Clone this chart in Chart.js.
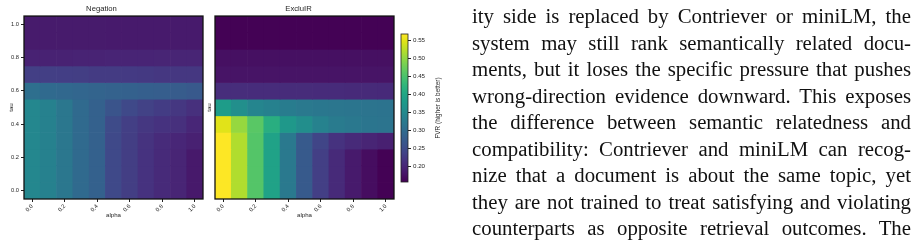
<!DOCTYPE html>
<html>
<head>
<meta charset="utf-8">
<script src="https://cdn.jsdelivr.net/npm/chart.js@4.4.1/dist/chart.umd.min.js"></script>
<style>
  body { margin: 0; width: 918px; height: 245px; background: #fff; overflow: hidden; position: relative; }
  .box { position: absolute; top: 0; }
  #para { position: absolute; left: 472px; top: 3px; width: 439px; font-family: "Liberation Serif", serif; font-size: 20.8px; line-height: 26.5px; color: #111; }
  #para div { text-align: justify; text-align-last: justify; }
</style>
</head>
<body>
<div class="box" style="left:0px"><canvas id="neg" width="206" height="245"></canvas></div>
<div class="box" style="left:203px"><canvas id="exc" width="195" height="245"></canvas></div>
<div class="box" style="left:395px"><canvas id="cbar" width="60" height="245"></canvas></div>
<div id="para">
  <div>ity side is replaced by Contriever or miniLM, the</div>
  <div>system may still rank semantically related docu-</div>
  <div>ments, but it loses the specific pressure that pushes</div>
  <div>wrong-direction evidence downward. This exposes</div>
  <div>the difference between semantic relatedness and</div>
  <div>compatibility: Contriever and miniLM can recog-</div>
  <div>nize that a document is about the same topic, yet</div>
  <div>they are not trained to treat satisfying and violating</div>
  <div>counterparts as opposite retrieval outcomes. The</div>
</div>
<script>
// grid axes
const alphaLabels = ['0.0', '0.1', '0.2', '0.3', '0.4', '0.5', '0.6', '0.7', '0.8', '0.9', '1.0'];
const tauValues = [1.0, 0.9, 0.8, 0.7, 0.6, 0.5, 0.4, 0.3, 0.2, 0.1, 0.0];
const tauTicks = [0.0, 0.2, 0.4, 0.6, 0.8, 1.0];

// FVR per cell, rows follow tauValues (top to bottom), columns follow alphaLabels
const negationFVR = [
  [0.186, 0.186, 0.186, 0.186, 0.186, 0.185, 0.185, 0.185, 0.185, 0.185, 0.185],
  [0.186, 0.186, 0.186, 0.186, 0.186, 0.185, 0.185, 0.185, 0.185, 0.185, 0.185],
  [0.195, 0.195, 0.195, 0.196, 0.196, 0.197, 0.197, 0.197, 0.198, 0.198, 0.198],
  [0.232, 0.232, 0.231, 0.230, 0.227, 0.226, 0.225, 0.224, 0.222, 0.221, 0.221],
  [0.305, 0.296, 0.293, 0.290, 0.287, 0.284, 0.282, 0.280, 0.277, 0.274, 0.270],
  [0.345, 0.336, 0.318, 0.296, 0.283, 0.262, 0.246, 0.236, 0.228, 0.222, 0.212],
  [0.345, 0.336, 0.318, 0.296, 0.283, 0.248, 0.232, 0.222, 0.215, 0.212, 0.200],
  [0.345, 0.336, 0.318, 0.296, 0.283, 0.246, 0.230, 0.216, 0.206, 0.200, 0.193],
  [0.345, 0.336, 0.318, 0.296, 0.283, 0.246, 0.230, 0.215, 0.205, 0.198, 0.184],
  [0.345, 0.336, 0.318, 0.296, 0.283, 0.246, 0.230, 0.215, 0.205, 0.198, 0.184],
  [0.345, 0.336, 0.318, 0.296, 0.283, 0.246, 0.230, 0.215, 0.205, 0.198, 0.184]
];
const excluirFVR = [
  [0.157, 0.157, 0.157, 0.157, 0.157, 0.157, 0.157, 0.157, 0.157, 0.157, 0.157],
  [0.157, 0.157, 0.157, 0.157, 0.157, 0.157, 0.157, 0.157, 0.157, 0.157, 0.157],
  [0.173, 0.173, 0.173, 0.173, 0.173, 0.173, 0.173, 0.173, 0.173, 0.173, 0.173],
  [0.178, 0.178, 0.178, 0.178, 0.178, 0.178, 0.178, 0.178, 0.178, 0.178, 0.178],
  [0.209, 0.209, 0.208, 0.208, 0.207, 0.207, 0.206, 0.206, 0.205, 0.205, 0.204],
  [0.382, 0.358, 0.343, 0.335, 0.328, 0.322, 0.319, 0.317, 0.315, 0.313, 0.311],
  [0.548, 0.502, 0.460, 0.413, 0.374, 0.357, 0.337, 0.326, 0.320, 0.316, 0.314],
  [0.567, 0.518, 0.456, 0.392, 0.322, 0.272, 0.240, 0.215, 0.205, 0.198, 0.192],
  [0.567, 0.518, 0.456, 0.392, 0.322, 0.272, 0.232, 0.205, 0.185, 0.170, 0.157],
  [0.567, 0.518, 0.456, 0.392, 0.322, 0.272, 0.232, 0.205, 0.185, 0.170, 0.157],
  [0.567, 0.518, 0.456, 0.392, 0.322, 0.272, 0.232, 0.205, 0.185, 0.170, 0.157]
];

// colour scale
const fvrMin = 0.156;
const fvrMax = 0.567;
const colorbarTicks = [0.20, 0.25, 0.30, 0.35, 0.40, 0.45, 0.50, 0.55];

const viridisStops = ['#440154', '#471365', '#482475', '#463480', '#414487', '#3b528b', '#355f8d',
  '#2f6c8e', '#2a788e', '#25848e', '#21918c', '#1e9c89', '#22a884', '#2fb47c', '#44bf70',
  '#5ec962', '#7ad151', '#9bd93c', '#bddf26', '#dfe318', '#fde725'];

function hexRgb(h) {
  return [parseInt(h.slice(1, 3), 16), parseInt(h.slice(3, 5), 16), parseInt(h.slice(5, 7), 16)];
}

function viridis(v) {
  let t = (v - fvrMin) / (fvrMax - fvrMin);
  t = Math.min(1, Math.max(0, t)) * (viridisStops.length - 1);
  const i = Math.min(Math.floor(t), viridisStops.length - 2);
  const f = t - i;
  const a = hexRgb(viridisStops[i]), b = hexRgb(viridisStops[i + 1]);
  const c = a.map((x, k) => Math.round(x + (b[k] - x) * f));
  return `rgb(${c[0]},${c[1]},${c[2]})`;
}

const txt = '#262626';
const sans = 'Liberation Sans';

const framePlugin = {
  id: 'frame',
  afterDatasetsDraw(chart, args, opts) {
    const { ctx, chartArea: a } = chart;
    ctx.save();
    ctx.strokeStyle = opts.color;
    ctx.lineWidth = opts.width;
    ctx.strokeRect(a.left, a.top, a.right - a.left, a.bottom - a.top);
    ctx.restore();
  }
};

function heatmap(id, title, rows, showYTicks, yWidth, tauPad, padRight) {
  new Chart(document.getElementById(id), {
    type: 'bar',
    data: {
      labels: alphaLabels,
      datasets: tauValues.map((tau, r) => ({
        data: alphaLabels.map(() => [tau - 0.05, tau + 0.05]),
        backgroundColor: rows[r].map(viridis),
        borderWidth: 0,
        grouped: false,
        barPercentage: 1,
        categoryPercentage: 1
      }))
    },
    options: {
      responsive: false,
      animation: false,
      layout: { padding: { left: 0, right: padRight, top: 0, bottom: 26 } },
      plugins: {
        legend: { display: false },
        tooltip: { enabled: false },
        title: {
          display: true,
          text: title,
          color: txt,
          font: { family: sans, size: 7.7, weight: 'normal' },
          padding: { top: 4.5, bottom: 2.3 }
        },
        frame: { color: '#111', width: 1.3 }
      },
      scales: {
        x: {
          type: 'category',
          border: { display: false },
          grid: { drawOnChartArea: false, offset: false, tickLength: 3, color: '#222' },
          ticks: { autoSkip: false, minRotation: 45, maxRotation: 45, padding: 1, color: txt, font: { family: sans, size: 5.7 } },
          afterBuildTicks: s => { s.ticks = s.ticks.filter(t => t.value % 2 === 0); },
          afterFit: s => { s.height = 20; },
          title: { display: true, text: 'alpha', color: txt, font: { family: sans, size: 6.1 }, padding: { top: 0, bottom: 0 } }
        },
        y: {
          type: 'linear',
          min: -0.05,
          max: 1.05,
          border: { display: false },
          grid: { display: showYTicks, drawOnChartArea: false, tickLength: 3, color: '#222' },
          ticks: { display: showYTicks, padding: 2, color: txt, font: { family: sans, size: 5.7 }, callback: v => v.toFixed(1) },
          afterBuildTicks: s => { s.ticks = tauTicks.map(v => ({ value: v })); },
          afterFit: s => { s.width = yWidth; },
          title: { display: true, text: 'tau', color: txt, font: { family: sans, size: 6.1 }, padding: { top: tauPad, bottom: 0 } }
        }
      }
    },
    plugins: [framePlugin]
  });
}

heatmap('neg', 'Negation', negationFVR, true, 24, 8, 3);
heatmap('exc', 'ExcluIR', excluirFVR, false, 12, 2.3, 4);

const cbarTitle = {
  id: 'cbarTitle',
  afterDraw(chart, args, opts) {
    const { ctx, chartArea: a } = chart;
    ctx.save();
    ctx.translate(opts.x, (a.top + a.bottom) / 2);
    ctx.rotate(-Math.PI / 2);
    ctx.fillStyle = txt;
    ctx.font = `6.4px "${sans}"`;
    ctx.textAlign = 'center';
    ctx.textBaseline = 'middle';
    ctx.fillText(opts.text, 0, 0);
    ctx.restore();
  }
};

new Chart(document.getElementById('cbar'), {
  type: 'bar',
  data: {
    labels: [''],
    datasets: [{
      data: [[fvrMin, fvrMax]],
      backgroundColor: c => {
        const a = c.chart.chartArea;
        if (!a) return null;
        const g = c.chart.ctx.createLinearGradient(0, a.bottom, 0, a.top);
        viridisStops.forEach((col, i) => g.addColorStop(i / (viridisStops.length - 1), col));
        return g;
      },
      borderWidth: 0,
      barPercentage: 1,
      categoryPercentage: 1
    }]
  },
  options: {
    responsive: false,
    animation: false,
    layout: { padding: { left: 6, right: 0, top: 34, bottom: 63 } },
    plugins: {
      legend: { display: false },
      tooltip: { enabled: false },
      frame: { color: '#222', width: 0.8 },
      cbarTitle: { text: 'FVR (higher is better)', x: 43 }
    },
    scales: {
      x: { display: false },
      y: {
        position: 'right',
        min: fvrMin,
        max: fvrMax,
        border: { display: false },
        grid: { drawOnChartArea: false, tickLength: 3, color: '#222' },
        ticks: { padding: 2, color: txt, font: { family: sans, size: 6.2 }, callback: v => v.toFixed(2) },
        afterBuildTicks: s => { s.ticks = colorbarTicks.map(v => ({ value: v })); },
        afterFit: s => { s.width = 47; }
      }
    }
  },
  plugins: [framePlugin, cbarTitle]
});
</script>
</body>
</html>
